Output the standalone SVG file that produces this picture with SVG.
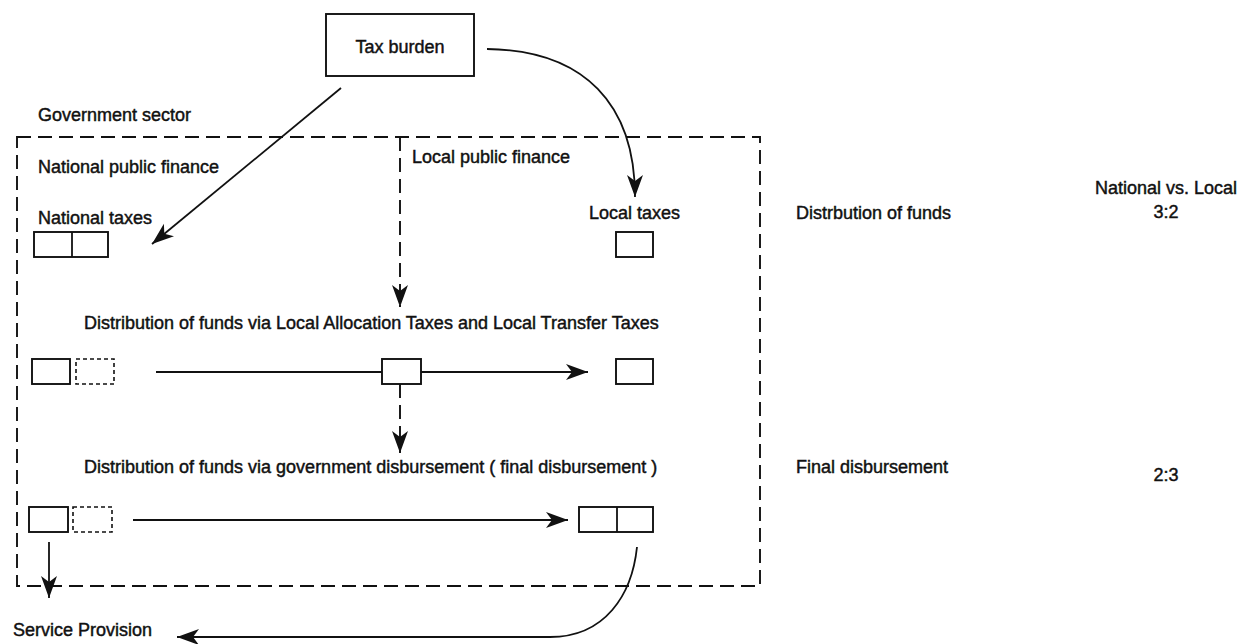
<svg xmlns="http://www.w3.org/2000/svg" width="1239" height="644" viewBox="0 0 1239 644">
<style>
text{font-family:"Liberation Sans",Arial,sans-serif;font-size:18px;fill:#111;stroke:#111;stroke-width:0.45;}
.box{fill:none;stroke:#111;stroke-width:1.9;}
.dbox{fill:none;stroke:#111;stroke-width:1.6;stroke-dasharray:4 3;}
.ln{fill:none;stroke:#111;stroke-width:1.8;}
.dash{fill:none;stroke:#111;stroke-width:1.9;stroke-dasharray:14 7;}
</style>
<defs>
<marker id="ah" markerUnits="userSpaceOnUse" markerWidth="24" markerHeight="18" refX="22" refY="8" orient="auto">
<path d="M0,0 L22,8 L0,16 L6,8 Z" fill="#111"/>
</marker>
</defs>
<rect width="1239" height="644" fill="#fff"/>

<g id="government-sector">
<rect class="dash" x="17" y="137" width="743" height="449"/>
<text x="38" y="121">Government sector</text>
<text x="38" y="173">National public finance</text>
<text x="412" y="163">Local public finance</text>
</g>

<g id="tax-burden">
<rect class="box" x="326" y="14" width="148" height="62"/>
<text x="400" y="53" text-anchor="middle">Tax burden</text>
</g>

<g id="national-taxes">
<text x="38" y="224">National taxes</text>
<rect class="box" x="34" y="232" width="74" height="25"/>
<line class="ln" x1="72" y1="232" x2="72" y2="257"/>
</g>

<g id="local-taxes">
<text x="589" y="219">Local taxes</text>
<rect class="box" x="616" y="232" width="37" height="25"/>
</g>

<g id="allocation-label">
<text x="84" y="329">Distribution of funds via Local Allocation Taxes and Local Transfer Taxes</text>
</g>
<g id="alloc-national">
<rect class="box" x="32" y="359" width="38" height="25"/>
<rect class="dbox" x="76" y="359" width="38" height="25"/>
</g>
<g id="alloc-mid">
<rect class="box" x="382" y="359" width="39" height="25"/>
</g>
<g id="alloc-local">
<rect class="box" x="616" y="359" width="37" height="25"/>
</g>

<g id="disbursement-label">
<text x="84" y="473">Distribution of funds via government disbursement ( final disbursement )</text>
</g>
<g id="final-national">
<rect class="box" x="29" y="507" width="39" height="25"/>
<rect class="dbox" x="73" y="507" width="39" height="25"/>
</g>
<g id="final-local">
<rect class="box" x="579" y="507" width="74" height="25"/>
<line class="ln" x1="617" y1="507" x2="617" y2="532"/>
</g>

<g id="service-provision">
<text x="13" y="636">Service Provision</text>
</g>

<g id="side-labels">
<text x="796" y="219">Distrbution of funds</text>
<text x="796" y="473">Final disbursement</text>
<text x="1166" y="194" text-anchor="middle">National vs. Local</text>
<text x="1166" y="218" text-anchor="middle">3:2</text>
<text x="1166" y="481" text-anchor="middle">2:3</text>
</g>

<g id="connectors">
<line class="ln" x1="341" y1="88" x2="152" y2="244" marker-end="url(#ah)"/>
<path class="ln" d="M487,49 C585,50 635,105 635,197" marker-end="url(#ah)"/>
<line class="dash" x1="400" y1="137" x2="400" y2="307" marker-end="url(#ah)"/>
<line class="ln" x1="156" y1="372" x2="382" y2="372"/>
<line class="ln" x1="421" y1="372" x2="588" y2="372" marker-end="url(#ah)"/>
<line class="dash" x1="400" y1="384" x2="400" y2="453" stroke-dasharray="16 10" marker-end="url(#ah)"/>
<line class="ln" x1="133" y1="520" x2="568" y2="520" marker-end="url(#ah)"/>
<line class="ln" x1="49" y1="542" x2="49" y2="598" marker-end="url(#ah)"/>
<path class="ln" d="M637,547 C632,595 605,637 550,637 L177,637" marker-end="url(#ah)"/>
</g>
</svg>
